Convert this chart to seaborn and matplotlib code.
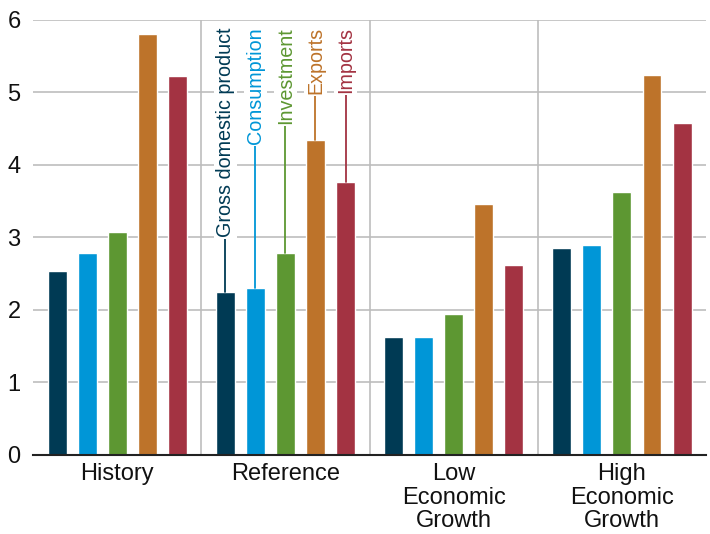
import pandas as pd
import numpy as np
import seaborn as sns
import matplotlib.pyplot as plt

# Data
scenarios = ["History", "Reference", "Low\nEconomic\nGrowth", "High\nEconomic\nGrowth"]
series = ["Gross domestic product", "Consumption", "Investment", "Exports", "Imports"]
gdp = [2.53, 2.24, 1.63, 2.86]
consumption = [2.79, 2.30, 1.63, 2.90]
investment = [3.08, 2.79, 1.95, 3.63]
exports = [5.80, 4.34, 3.46, 5.24]
imports = [5.22, 3.77, 2.62, 4.58]
palette = ["#003A54", "#0096D7", "#5D9732", "#BD732A", "#A33342"]

values = [gdp, consumption, investment, exports, imports]
rows = []
for name, vals in zip(series, values):
    for sc, v in zip(scenarios, vals):
        rows.append({"scenario": sc, "series": name, "value": v})
df = pd.DataFrame(rows)

sns.set_style("white")
plt.rcParams["font.family"] = ["Liberation Sans", "DejaVu Sans"]

fig = plt.figure(figsize=(7.1, 5.34), dpi=100)
ax = fig.add_axes([0.0465, 0.148, 0.948, 0.815])

sns.barplot(data=df, x="scenario", y="value", hue="series", order=scenarios,
            hue_order=series, palette=palette, width=0.893, gap=0.37,
            saturation=1, legend=False, ax=ax, zorder=2)

ax.set_ylim(0, 6)
ax.set_xlim(-0.5, 3.5)
ax.set_yticks(range(0, 7))
ax.yaxis.grid(True, color="#BDBDBD", linewidth=1.2)
ax.set_axisbelow(True)
for xb in [0.5, 1.5, 2.5]:
    ax.axvline(xb, color="#BDBDBD", linewidth=1.2, zorder=0.5)

for side in ["left", "right", "top"]:
    ax.spines[side].set_visible(False)
ax.spines["bottom"].set_color("#222222")
ax.spines["bottom"].set_linewidth(1.5)

ax.set_xlabel("")
ax.set_ylabel("")
ax.tick_params(axis="y", length=0, pad=9, labelsize=17, labelcolor="#111111")
ax.tick_params(axis="x", which="major", length=0, pad=6, labelsize=17, labelcolor="#111111")
ax.set_xticks([-0.5, 0.5, 1.5, 2.5, 3.5], minor=True)
ax.tick_params(axis="x", which="minor", length=6, width=1.3, color="#222222")
for lbl in ax.get_xticklabels():
    lbl.set_linespacing(1.08)

# Labels with leader lines on the Reference group
for cont, name, col in zip(ax.containers, series, palette):
    bar = cont[1]
    xc = bar.get_x() + bar.get_width() / 2
    top = bar.get_height()
    ax.plot([xc, xc], [top, 5.6], color=col, linewidth=1.3, zorder=2.5)
    ax.text(xc, 5.9, name, rotation=90, ha="center", va="top", color=col,
            fontsize=14.2, zorder=3,
            bbox=dict(facecolor="white", edgecolor="none", pad=1.5))

fig.savefig("out.png", dpi=100)
